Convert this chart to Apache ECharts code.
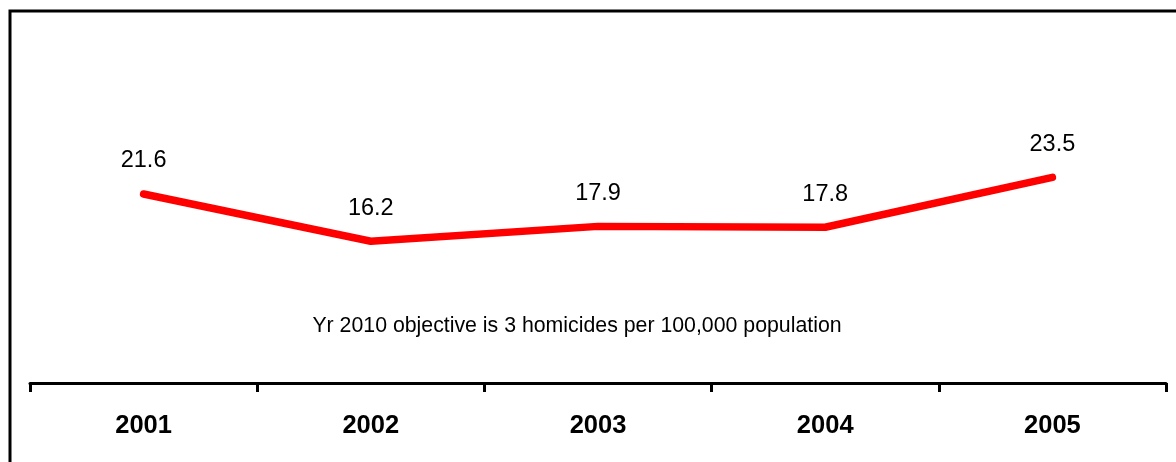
<!DOCTYPE html>
<html>
<head>
<meta charset="utf-8">
<script src="https://cdn.jsdelivr.net/npm/echarts@6/dist/echarts.min.js"></script>
<style>
html,body{margin:0;padding:0;background:#fff;}
#chart{width:1176px;height:462px;}
</style>
</head>
<body>
<div id="chart"></div>
<script>
const categories = ['2001', '2002', '2003', '2004', '2005'];
const homicideRates = [21.6, 16.2, 17.9, 17.8, 23.5];
const noteText = 'Yr 2010 objective is 3 homicides per 100,000 population';

const FONT = '"Liberation Sans", Arial, sans-serif';
const chart = echarts.init(document.getElementById('chart'));
chart.setOption({
  animation: false,
  backgroundColor: '#ffffff',
  grid: { left: 30, right: 10, top: 33, bottom: 79 },
  xAxis: {
    type: 'category',
    data: categories,
    boundaryGap: true,
    axisLine: { lineStyle: { color: '#000', width: 3 } },
    axisTick: { show: true, length: 9, lineStyle: { color: '#000', width: 3 } },
    axisLabel: { color: '#000', fontFamily: FONT, fontSize: 25.5, fontWeight: 'bold', margin: 30 }
  },
  yAxis: {
    type: 'value',
    min: 0, max: 40,
    show: false,
    splitLine: { show: false }
  },
  series: [{
    type: 'line',
    data: homicideRates,
    symbol: 'circle',
    symbolSize: 0,
    showSymbol: true,
    lineStyle: { color: '#ff0000', width: 7.5, cap: 'round', join: 'round' },
    itemStyle: { color: '#ff0000' },
    label: {
      show: true,
      position: 'top',
      distance: 21,
      color: '#000',
      fontFamily: FONT,
      fontSize: 23.5,
      formatter: p => p.value.toFixed(1)
    }
  }],
  graphic: [
    {
      type: 'rect',
      shape: { x: 10, y: 11, width: 1200, height: 500 },
      style: { fill: 'none', stroke: '#000', lineWidth: 3 },
      silent: true
    },
    {
      type: 'text',
      x: 577, y: 326,
      style: {
        text: noteText,
        fill: '#000',
        font: '21.3px ' + FONT,
        textAlign: 'center',
        textVerticalAlign: 'middle'
      }
    }
  ]
});
</script>
</body>
</html>
